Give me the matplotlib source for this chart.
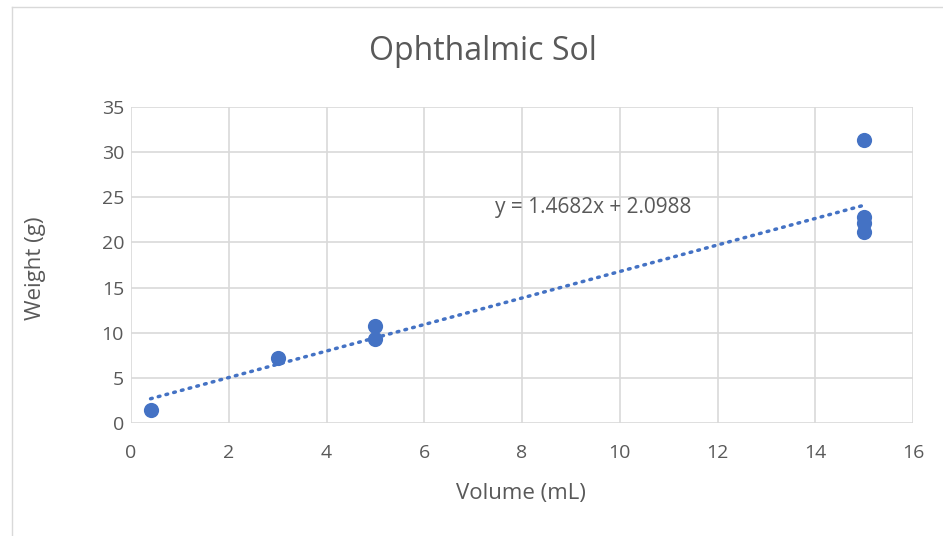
import matplotlib
matplotlib.use("Agg")
import matplotlib.pyplot as plt
import numpy as np
from matplotlib.lines import Line2D

plt.rcParams['font.family'] = ['Open Sans', 'DejaVu Sans']

volume = [0.4, 3, 5, 5, 15, 15, 15, 15]
weight = [1.4, 7.2, 10.7, 9.3, 31.3, 22.8, 22.2, 21.2]
slope = 1.4682
intercept = 2.0988
xticks = [0, 2, 4, 6, 8, 10, 12, 14, 16]
yticks = [0, 5, 10, 15, 20, 25, 30, 35]

gray = '#595959'
blue = '#4472C4'
grid = '#d9d9d9'

fig = plt.figure(figsize=(9.43, 5.36), dpi=100)
ax = fig.add_axes([131/943, 1-423/536, (913-131)/943, (423-107)/536])

# outer chart border
fig.add_artist(Line2D([12/943, 12/943], [0, 1-7/536], transform=fig.transFigure, color=grid, lw=1))
fig.add_artist(Line2D([12/943, 1], [1-7/536, 1-7/536], transform=fig.transFigure, color=grid, lw=1))

ax.set_xlim(0, 16)
ax.set_ylim(0, 35)
ax.set_xticks(xticks)
ax.set_yticks(yticks)
ax.grid(True, color=grid, lw=1.2)
ax.set_axisbelow(True)
for s in ax.spines.values():
    s.set_visible(False)
ax.tick_params(length=0, labelsize=14, labelcolor=gray)
ax.tick_params(axis='x', pad=15)
ax.tick_params(axis='y', pad=5)

xfit = np.array([min(volume), max(volume)])
ax.plot(xfit, slope*xfit + intercept, color=blue, lw=2.5, linestyle=(0, (0.5, 1.8)),
        dash_capstyle='round', zorder=2)
ax.scatter(volume, weight, s=120, color=blue, zorder=3, linewidths=0)

ax.text(7.45, 23.9, f"y = {slope}x + {intercept}", fontsize=15, color=gray, va='center', ha='left')

fig.text(521/943, 1-493/536, "Volume (mL)", fontsize=16, color=gray, ha='center', va='center')
fig.text(36/943, 1-268/536, "Weight (g)", fontsize=16, color=gray, ha='center', va='center', rotation=90)
fig.text(483/943, 1-52/536, "Ophthalmic Sol", fontsize=23, color=gray, ha='center', va='center')

fig.savefig("out.png", dpi=100)
